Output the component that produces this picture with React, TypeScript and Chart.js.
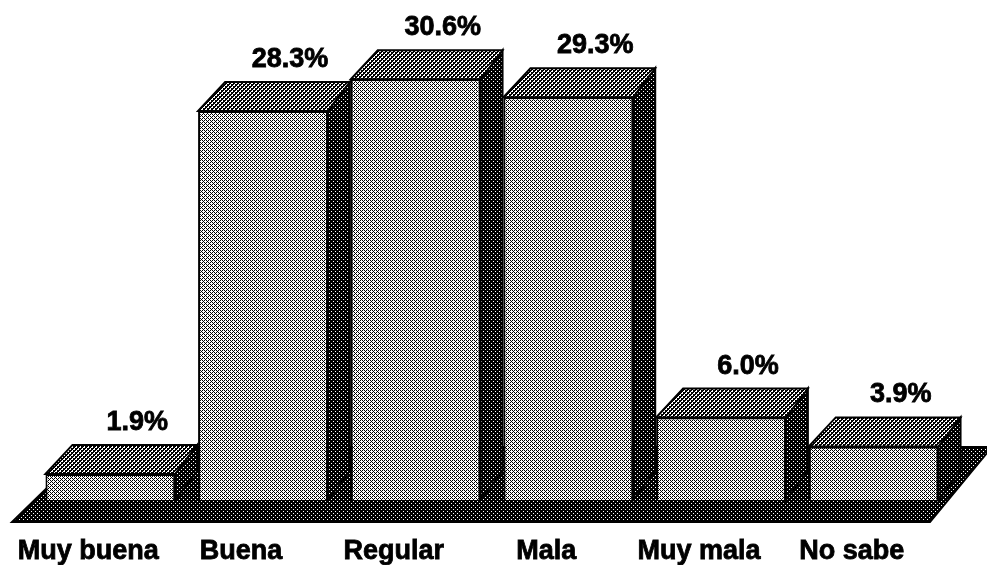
import React, { useEffect, useRef } from "react";
import { Chart, registerables } from "chart.js";

Chart.register(...registerables);

const categories = ["Muy buena", "Buena", "Regular", "Mala", "Muy mala", "No sabe"];
const percentages = [1.9, 28.3, 30.6, 29.3, 6.0, 3.9];
const valueLabels = ["1.9%", "28.3%", "30.6%", "29.3%", "6.0%", "3.9%"];

// 4x4 tiles: 1 = black pixel, 0 = white pixel
const FRONT_TILE = [
  [1, 0, 1, 0],
  [0, 0, 0, 1],
  [1, 0, 1, 0],
  [0, 1, 0, 0],
];
const TOP_TILE = [
  [1, 1, 0, 1],
  [1, 0, 0, 1],
  [0, 1, 1, 1],
  [0, 1, 1, 0],
];
const SIDE_TILE = [
  [1, 1, 1, 1],
  [1, 0, 1, 1],
  [1, 1, 1, 1],
  [1, 1, 1, 0],
];
const FLOOR_TILE = [
  [1, 1, 1, 1],
  [1, 0, 1, 1],
  [1, 1, 1, 1],
  [1, 1, 1, 0],
];

function tilePattern(ctx: CanvasRenderingContext2D, tile: number[][]) {
  const c = document.createElement("canvas");
  c.width = 4;
  c.height = 4;
  const g = c.getContext("2d")!;
  for (let y = 0; y < 4; y++)
    for (let x = 0; x < 4; x++) {
      g.fillStyle = tile[y][x] ? "#000" : "#fff";
      g.fillRect(x, y, 1, 1);
    }
  return ctx.createPattern(c, "repeat")!;
}

const DXL = 27;
const DXR = 22;
const DY = -29;
const FONT = "bold 27px 'Liberation Sans', Arial, Helvetica, sans-serif";

export default function App() {
  const ref = useRef<HTMLCanvasElement | null>(null);

  useEffect(() => {
    const canvas = ref.current!;
    const ctx = canvas.getContext("2d")!;
    const frontPat = tilePattern(ctx, FRONT_TILE);
    const sidePat = tilePattern(ctx, SIDE_TILE);
    const floorPat = tilePattern(ctx, FLOOR_TILE);
    const topPat = tilePattern(ctx, TOP_TILE);

    const poly = (c: CanvasRenderingContext2D, pts: number[][], fill: any) => {
      c.beginPath();
      c.moveTo(pts[0][0], pts[0][1]);
      for (let i = 1; i < pts.length; i++) c.lineTo(pts[i][0], pts[i][1]);
      c.closePath();
      c.fillStyle = fill;
      c.fill();
      c.strokeStyle = "#000";
      c.lineWidth = 2;
      c.lineJoin = "miter";
      c.stroke();
    };

    const depthPlugin = {
      id: "depth3d",
      beforeDatasetsDraw(chart: any) {
        const c = chart.ctx as CanvasRenderingContext2D;
        const a = chart.chartArea;
        c.save();
        c.imageSmoothingEnabled = false;
        poly(
          c,
          [
            [a.left - 22, a.bottom + 22],
            [a.right - 20, a.bottom + 22],
            [a.right + 42, a.bottom - 53],
            [a.left + 55, a.bottom - 53],
          ],
          floorPat
        );
        const meta = chart.getDatasetMeta(0);
        meta.data.forEach((el: any) => {
          const p = el.getProps(["x", "y", "base", "width"], true);
          const xl = p.x - p.width / 2;
          const xr = p.x + p.width / 2;
          poly(
            c,
            [
              [xr, p.y],
              [xr + DXR, p.y + DY],
              [xr + DXR, p.base + DY],
              [xr, p.base],
            ],
            sidePat
          );
          poly(
            c,
            [
              [xl, p.y],
              [xl + DXL, p.y + DY],
              [xr + DXR, p.y + DY],
              [xr, p.y],
            ],
            topPat
          );
        });
        c.restore();
      },
      afterDatasetsDraw(chart: any) {
        const c = chart.ctx as CanvasRenderingContext2D;
        const meta = chart.getDatasetMeta(0);
        c.save();
        c.font = FONT;
        c.fillStyle = "#000";
        c.strokeStyle = "#000";
        c.lineWidth = 0.8;
        c.textAlign = "center";
        c.textBaseline = "alphabetic";
        meta.data.forEach((el: any, i: number) => {
          const p = el.getProps(["x", "y", "base"], true);
          const vx = p.x + 27;
          const vy = p.y + DY - 15;
          c.fillText(valueLabels[i], vx, vy);
          c.strokeText(valueLabels[i], vx, vy);
          const lx = p.x - 22;
          const ly = p.base + 59;
          c.fillText(chart.data.labels[i], lx, ly);
          c.strokeText(chart.data.labels[i], lx, ly);
        });
        c.restore();
      },
    };

    const chart = new Chart(canvas, {
      type: "bar",
      data: {
        labels: categories,
        datasets: [
          {
            data: percentages,
            backgroundColor: frontPat as any,
            borderColor: "#000",
            borderWidth: 2,
            categoryPercentage: 1,
            barPercentage: 0.85,
          },
        ],
      },
      options: {
        responsive: false,
        animation: false,
        devicePixelRatio: 1,
        layout: { padding: { left: 34, right: 37, top: 5, bottom: 65 } },
        plugins: { legend: { display: false }, tooltip: { enabled: false } },
        scales: {
          x: { display: false },
          y: { display: false, min: 0, max: 36 },
        },
      },
      plugins: [depthPlugin],
    });
    return () => chart.destroy();
  }, []);

  return (
    <div style={{ position: "fixed", left: 0, top: 0, width: 987, height: 565, background: "#fff" }}>
      <canvas ref={ref} width={987} height={565} />
    </div>
  );
}
